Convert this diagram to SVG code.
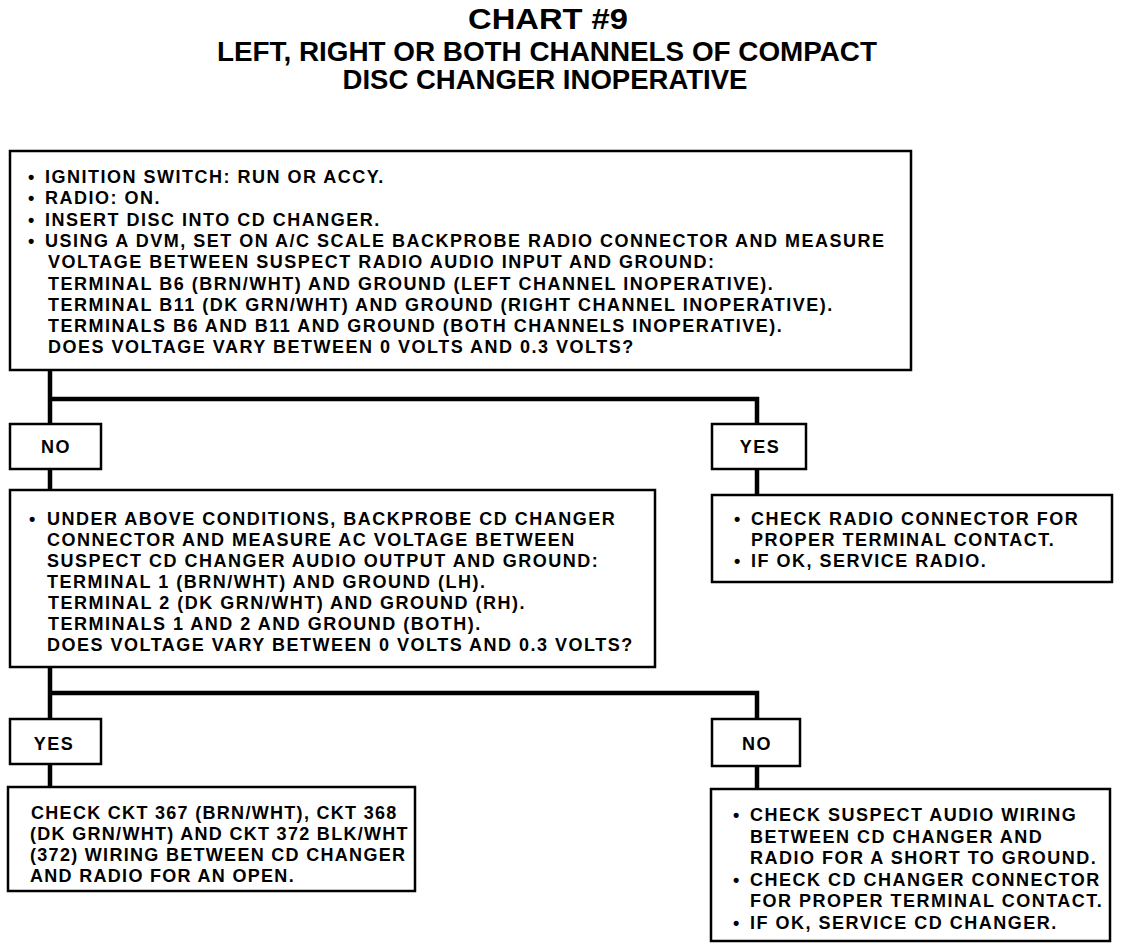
<svg xmlns="http://www.w3.org/2000/svg" width="1136" height="950" viewBox="0 0 1136 950">
<style>
text{font-family:"Liberation Sans",Arial,sans-serif;font-weight:bold;fill:#000}
.t{font-size:18px;letter-spacing:1.5px}
.n{letter-spacing:1.3px}
.h{font-size:29px}
.box{fill:#fff;stroke:#000;stroke-width:2.5}
.con{fill:none;stroke:#000;stroke-width:4.5}
</style>
<rect width="1136" height="950" fill="#fff"/>
<g id="title">
<text class="h" x="548" y="29" text-anchor="middle" textLength="160" lengthAdjust="spacingAndGlyphs">CHART #9</text>
<text class="h" x="547" y="61" text-anchor="middle" textLength="660" lengthAdjust="spacingAndGlyphs" style="font-size:27px">LEFT, RIGHT OR BOTH CHANNELS OF COMPACT</text>
<text class="h" x="545" y="89" text-anchor="middle" textLength="405" lengthAdjust="spacingAndGlyphs" style="font-size:27px">DISC CHANGER INOPERATIVE</text>
</g>
<g id="connectors">
<polyline class="con" points="50,370 50,424"/>
<polyline class="con" points="50,399 757,399 757,424"/>
<polyline class="con" points="50,469 50,490"/>
<polyline class="con" points="757,469 757,495"/>
<polyline class="con" points="50,667 50,719"/>
<polyline class="con" points="50,693 757,693 757,719"/>
<polyline class="con" points="50,764 50,787"/>
<polyline class="con" points="757,766 757,789"/>
</g>
<g id="start">
<rect class="box" x="10" y="151" width="901" height="219"/>
<text class="t" x="28" y="183">•</text><text class="t" x="45" y="183">IGNITION SWITCH: RUN OR ACCY.</text>
<text class="t" x="28" y="204.3">•</text><text class="t" x="45" y="204.3">RADIO: ON.</text>
<text class="t" x="28" y="225.6">•</text><text class="t" x="45" y="225.6">INSERT DISC INTO CD CHANGER.</text>
<text class="t" x="28" y="246.9">•</text><text class="t" x="45" y="246.9">USING A DVM, SET ON A/C SCALE BACKPROBE RADIO CONNECTOR AND MEASURE</text>
<text class="t" x="48" y="268.2">VOLTAGE BETWEEN SUSPECT RADIO AUDIO INPUT AND GROUND:</text>
<text class="t" x="48" y="289.5">TERMINAL B6 (BRN/WHT) AND GROUND (LEFT CHANNEL INOPERATIVE).</text>
<text class="t" x="48" y="310.8">TERMINAL B11 (DK GRN/WHT) AND GROUND (RIGHT CHANNEL INOPERATIVE).</text>
<text class="t" x="48" y="332.1">TERMINALS B6 AND B11 AND GROUND (BOTH CHANNELS INOPERATIVE).</text>
<text class="t" x="48" y="353.4">DOES VOLTAGE VARY BETWEEN 0 VOLTS AND 0.3 VOLTS?</text>
</g>
<g id="no1">
<rect class="box" x="10" y="424" width="91" height="45"/>
<text class="t" x="56" y="453" text-anchor="middle">NO</text>
</g>
<g id="yes1">
<rect class="box" x="712" y="424" width="94" height="45"/>
<text class="t" x="760" y="453" text-anchor="middle">YES</text>
</g>
<g id="check2">
<rect class="box" x="10" y="490" width="645" height="177"/>
<text class="t" x="29" y="525">•</text><text class="t" x="47" y="525">UNDER ABOVE CONDITIONS, BACKPROBE CD CHANGER</text>
<text class="t" x="47" y="546">CONNECTOR AND MEASURE AC VOLTAGE BETWEEN</text>
<text class="t" x="47" y="567">SUSPECT CD CHANGER AUDIO OUTPUT AND GROUND:</text>
<text class="t" x="47" y="588">TERMINAL 1 (BRN/WHT) AND GROUND (LH).</text>
<text class="t" x="48" y="609">TERMINAL 2 (DK GRN/WHT) AND GROUND (RH).</text>
<text class="t" x="48" y="630">TERMINALS 1 AND 2 AND GROUND (BOTH).</text>
<text class="t" x="47" y="651">DOES VOLTAGE VARY BETWEEN 0 VOLTS AND 0.3 VOLTS?</text>
</g>
<g id="radio">
<rect class="box" x="712" y="495" width="400" height="87"/>
<text class="t" x="734" y="525">•</text><text class="t" x="751" y="525">CHECK RADIO CONNECTOR FOR</text>
<text class="t" x="751" y="546">PROPER TERMINAL CONTACT.</text>
<text class="t" x="734" y="567">•</text><text class="t" x="751" y="567">IF OK, SERVICE RADIO.</text>
</g>
<g id="yes2">
<rect class="box" x="10" y="719" width="91" height="45"/>
<text class="t" x="54" y="750" text-anchor="middle">YES</text>
</g>
<g id="no2">
<rect class="box" x="712" y="719" width="88" height="47"/>
<text class="t" x="757" y="750" text-anchor="middle">NO</text>
</g>
<g id="open">
<rect class="box" x="8" y="787" width="407" height="104"/>
<text class="t n" x="31" y="819">CHECK CKT 367 (BRN/WHT), CKT 368</text>
<text class="t n" x="30" y="840">(DK GRN/WHT) AND CKT 372 BLK/WHT</text>
<text class="t n" x="30" y="861">(372) WIRING BETWEEN CD CHANGER</text>
<text class="t n" x="30" y="882">AND RADIO FOR AN OPEN.</text>
</g>
<g id="short">
<rect class="box" x="711" y="789" width="399" height="152"/>
<text class="t" x="733" y="821">•</text><text class="t" x="750" y="821">CHECK SUSPECT AUDIO WIRING</text>
<text class="t" x="750" y="842.5">BETWEEN CD CHANGER AND</text>
<text class="t" x="750" y="864">RADIO FOR A SHORT TO GROUND.</text>
<text class="t" x="733" y="885.5">•</text><text class="t" x="750" y="885.5">CHECK CD CHANGER CONNECTOR</text>
<text class="t" x="750" y="907">FOR PROPER TERMINAL CONTACT.</text>
<text class="t" x="733" y="928.5">•</text><text class="t" x="750" y="928.5">IF OK, SERVICE CD CHANGER.</text>
</g>
</svg>
